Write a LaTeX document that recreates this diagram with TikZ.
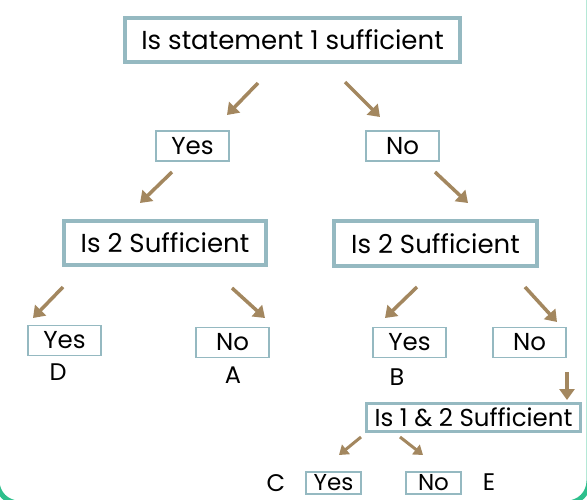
\documentclass[tikz,border=0pt]{standalone}
\usepackage{fontspec}
\setmainfont{Poppins}
\usetikzlibrary{arrows.meta}
\definecolor{boxline}{HTML}{95B9C1}
\definecolor{arrbrown}{HTML}{A3875F}
\definecolor{framegreen}{HTML}{2EBF8C}

\begin{document}
\begin{tikzpicture}
  [x=1pt,y=-1pt,
   ques/.style={draw=boxline,line width=4pt,inner sep=0pt,font=\fontsize{26}{26}\selectfont},
   ans/.style={draw=boxline,line width=1.6pt,minimum width=73pt,minimum height=30pt,inner sep=0pt,font=\fontsize{24.5}{24.5}\selectfont},
   small/.style={ans,minimum width=55pt,minimum height=22pt,font=\fontsize{23}{23}\selectfont},
   letter/.style={inner sep=0pt,font=\fontsize{24}{24}\selectfont},
   arr/.style={arrbrown,line width=3.5pt,-{Triangle[width=15pt,length=11pt]}},
   smallarr/.style={arr,line width=3pt,-{Triangle[width=12pt,length=9pt]}}]
  \useasboundingbox (0,0) rectangle (587,499);
  \fill[white] (0,0) rectangle (587,499);
  \draw[framegreen,line width=5pt,rounded corners=22pt] (-3,-30) rectangle (589,503);

  % questions
  \node[ques,minimum width=335pt,minimum height=44pt] (q1) at (292.5,40) {Is statement 1 sufficient};
  \node[ques,minimum width=202pt,minimum height=44pt] (q2a) at (165,243) {Is 2 Sufficient};
  \node[ques,minimum width=203pt,minimum height=45pt] (q2b) at (435.5,243.5) {Is 2 Sufficient\hspace{11pt}};
  \node[ques,line width=3pt,minimum width=214pt,minimum height=28pt,font=\fontsize{24.5}{24.5}\selectfont] (q3) at (473.5,417.5) {Is 1 \& 2 Sufficient};

  % answers
  \node[ans] (yes1) at (192.5,146) {Yes};
  \node[ans] (no1) at (402.5,146) {No};
  \node[ans] (yesD) at (64.5,340.5) {Yes};
  \node[ans] (noA) at (232.5,342.5) {No};
  \node[ans] (yesB) at (409.5,342.5) {Yes};
  \node[ans] (no2) at (529.5,342.5) {No};
  \node[small] (yesC) at (333.5,483) {Yes};
  \node[small] (noE) at (433.5,483) {No};

  % letters
  \node[letter] (D) at (58,372) {D};
  \node[letter] (A) at (233,375) {A};
  \node[letter] (B) at (397,377) {B};
  \node[letter] (C) at (276,483) {C};
  \node[letter] (E) at (489,482) {E};

  % arrow ends
  \coordinate (s1) at (258,83);   \coordinate (t1) at (227,115);
  \coordinate (s2) at (345,82);   \coordinate (t2) at (380,117);
  \coordinate (s3) at (172,172);  \coordinate (t3) at (140,203);
  \coordinate (s4) at (435,172);  \coordinate (t4) at (468,203);
  \coordinate (s5) at (63,287);   \coordinate (t5) at (33,318);
  \coordinate (s6) at (232,288);  \coordinate (t6) at (265,318);
  \coordinate (s7) at (417,287);  \coordinate (t7) at (385,318);
  \coordinate (s8) at (525,287);  \coordinate (t8) at (557,322);
  \coordinate (s9) at (567,372);  \coordinate (t9) at (567,400);
  \coordinate (s10) at (361,437); \coordinate (t10) at (339,455);
  \coordinate (s11) at (400,437); \coordinate (t11) at (423,455);

  \foreach \from/\to in {s1/t1,s2/t2,s3/t3,s4/t4,s5/t5,s6/t6,s7/t7,s8/t8,s9/t9}
    \draw[arr] (\from) -- (\to);
  \foreach \from/\to in {s10/t10,s11/t11}
    \draw[smallarr] (\from) -- (\to);
\end{tikzpicture}
\end{document}
